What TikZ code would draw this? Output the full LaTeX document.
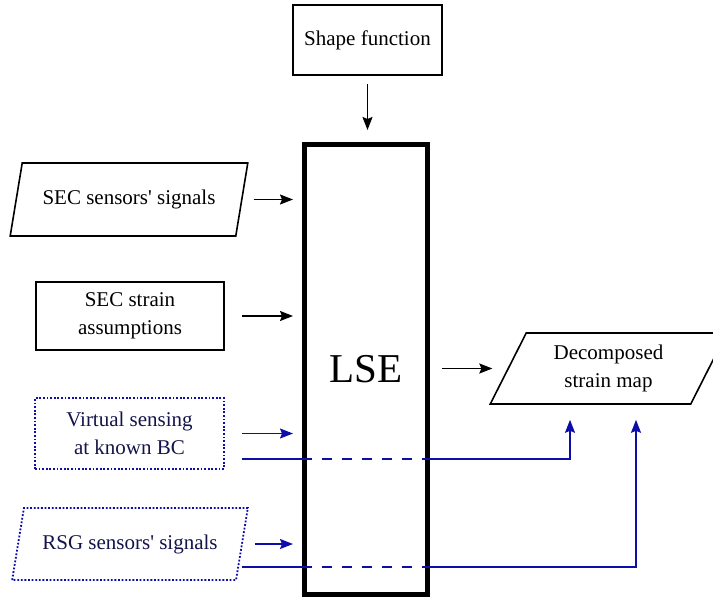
\documentclass[tikz,border=0pt]{standalone}
\usepackage{fontspec}
\setmainfont{Liberation Serif}
\usetikzlibrary{arrows.meta,calc,shapes.geometric}
\definecolor{azulLS}{HTML}{0D0DAA}
\definecolor{tintaLS}{HTML}{14144A}

\begin{document}
\begin{tikzpicture}[x=1pt,y=-1pt,>={Stealth[length=13pt,width=10pt,inset=2pt]},
  font=\fontsize{21}{28}\selectfont,
  caja/.style={draw,line width=1.6pt,align=center,inner sep=0pt},
  datos/.style={caja,trapezium,trapezium left angle=63,trapezium right angle=117,
    trapezium stretches=true},
  punteado/.style={draw=azulLS,line width=1.8pt,dash pattern=on 1.8pt off 1.8pt,text=tintaLS},
  flecha/.style={->,line width=1.6pt},
  via/.style={line width=1.6pt,azulLS}]
  \useasboundingbox (0,0) rectangle (713,599);
  % bloques
  \node[caja,minimum width=149,minimum height=70] (forma) at (367.5,40) {Shape function};
  \node[draw,line width=5pt,minimum width=123,minimum height=450,
    font=\fontsize{41}{48}\selectfont] (lse) at (366,369.5) {LSE};
  \node[datos,minimum width=238,minimum height=73] (secsig) at (129,199.5)
    {SEC sensors\textquotesingle\ signals};
  \node[caja,minimum width=188,minimum height=68] (secsup) at (130,316) {SEC strain\\assumptions};
  \node[caja,punteado,minimum width=189,minimum height=71] (virt) at (129.5,433.5)
    {Virtual sensing\\at known BC};
  \node[datos,punteado,minimum width=236,minimum height=72] (rsg) at (130,544)
    {RSG sensors\textquotesingle\ signals};
  \node[datos,minimum width=237,minimum height=71] (decomp) at (608.5,368.5) {Decomposed\\strain map};
  % flechas
  \draw[flecha,shorten <=8pt,shorten >=12pt] (forma.south) -- (forma.south |- lse.north);
  \draw[flecha,shorten <=11pt,shorten >=9pt] (secsig.east) -- (secsig.east -| lse.west);
  \draw[flecha,shorten <=17pt,shorten >=9pt] (secsup.east) -- (secsup.east -| lse.west);
  \draw[flecha,azulLS,shorten <=17pt,shorten >=9pt] (virt.east) -- (virt.east -| lse.west);
  \draw[flecha,azulLS,shorten <=12pt,shorten >=9pt] (rsg.east) -- (rsg.east -| lse.west);
  \draw[flecha,shorten <=12pt,shorten >=15pt] (lse.east |- decomp.west) -- (decomp.west);
  % lazos azules
  \coordinate (vsout) at (242,459);
  \coordinate (rsgout) at (242,567);
  \foreach \c/\dx in {vsout/-38.5,rsgout/27.5}{
    \draw[via] (\c) -- (\c -| lse.west);
    \draw[via,dash pattern=on 10pt off 10pt] (\c -| lse.west) -- (\c -| lse.east);
    \draw[via,->,shorten >=15pt] (\c -| lse.east) -| ([xshift=\dx]decomp.south);
  }
\end{tikzpicture}
\end{document}
